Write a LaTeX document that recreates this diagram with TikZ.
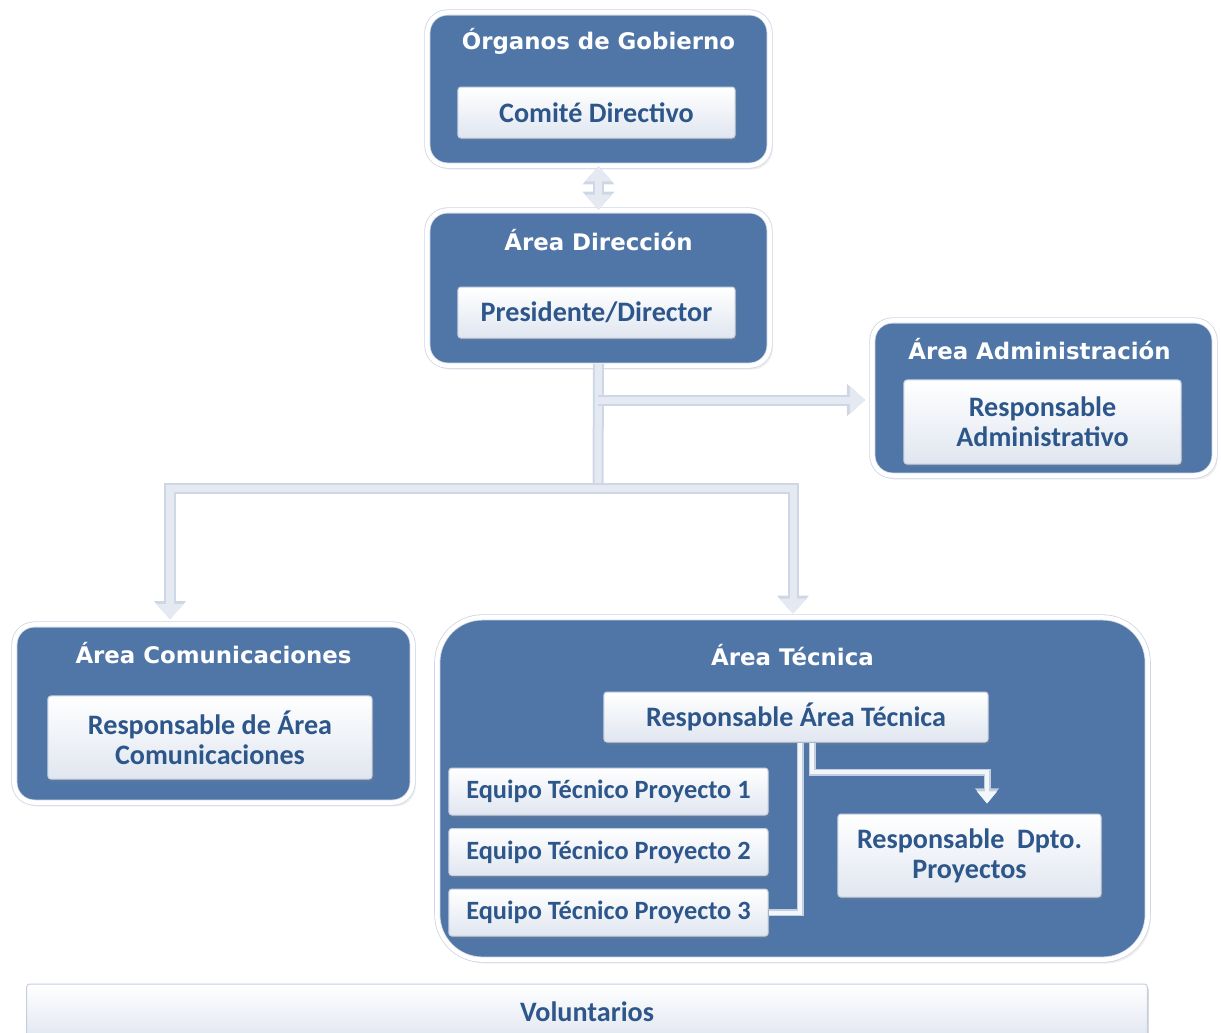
\documentclass[tikz,border=0pt]{standalone}
\usepackage{fontspec}
\setmainfont{Carlito}
\newfontfamily\headfont{DejaVu Sans}
\usetikzlibrary{arrows.meta,shadows}

\definecolor{areablue}{RGB}{80,118,167}
\definecolor{ringline}{RGB}{205,214,229}
\definecolor{boxline}{RGB}{196,207,224}
\definecolor{boxshade}{RGB}{224,230,240}
\definecolor{inktext}{RGB}{45,86,138}
\definecolor{linkfill}{RGB}{229,234,242}
\definecolor{linkline}{RGB}{206,215,229}

\begin{document}
\begin{tikzpicture}[x=0.01cm,y=-0.01cm,
    area/.style={rectangle,
          rounded corners=0.2cm,
          fill=areablue,
          draw=ringline,
          double=white,
          double distance=0.045cm,
          line width=0.008cm,
          drop shadow={opacity=0.12, shadow xshift=0.03cm, shadow yshift=-0.04cm}},
    head/.style={anchor=base, text=white,
          font={\headfont\bfseries\fontsize{6.5}{8}\selectfont}},
    post/.style={rectangle,
          rounded corners=0.03cm,
          draw=boxline,
          line width=0.01cm,
          top color=white,
          bottom color=boxshade,
          text=inktext,
          align=center,
          inner sep=0pt,
          font={\bfseries\fontsize{8}{8.6}\selectfont},
          drop shadow={opacity=0.3, shadow xshift=0.015cm, shadow yshift=-0.025cm}},
    link/.style={draw=linkfill, line width=0.07cm,
          preaction={draw=linkline, line width=0.11cm}},
    tip/.style={link, -{Triangle[width=0.26cm,length=0.15cm]},
          preaction={draw=linkline, line width=0.11cm, -{Triangle[width=0.31cm,length=0.18cm]}}},
    twotips/.style={link, {Triangle[width=0.26cm,length=0.15cm]}-{Triangle[width=0.26cm,length=0.15cm]},
          preaction={draw=linkline, line width=0.11cm,
            {Triangle[width=0.31cm,length=0.18cm]}-{Triangle[width=0.31cm,length=0.18cm]}}},
    inlink/.style={draw=white!94!areablue, line width=0.04cm,
          preaction={draw=boxline, line width=0.07cm}},
    intip/.style={inlink, -{Triangle[width=0.19cm,length=0.12cm]},
          preaction={draw=boxline, line width=0.07cm, -{Triangle[width=0.23cm,length=0.15cm]}}}]

    \useasboundingbox (0,0) rectangle (1221,1032);

    % areas
    \node[area, minimum width=3.42cm, minimum height=1.53cm] (org) at (598.5,89) {};
    \node[head] at ([yshift=-0.37cm]org.north) {Órganos de Gobierno};

    \node[area, minimum width=3.42cm, minimum height=1.55cm] (dir) at (598.5,288) {};
    \node[head] at ([yshift=-0.40cm]dir.north) {Área Dirección};

    \node[area, minimum width=3.42cm, minimum height=1.55cm] (adm) at (1043.5,398) {};
    \node[head] at ([xshift=-0.04cm,yshift=-0.39cm]adm.north) {Área Administración};

    \node[area, minimum width=3.98cm, minimum height=1.78cm] (com) at (213.5,713.5) {};
    \node[head] at ([yshift=-0.39cm]com.north) {Área Comunicaciones};

    \node[area, rounded corners=0.45cm,
          minimum width=7.10cm, minimum height=3.42cm] (tec) at (792.5,788.5) {};
    \node[head] at ([yshift=-0.48cm]tec.north) {Área Técnica};

    % posts
    \node[post, minimum width=2.77cm, minimum height=0.51cm] (comite) at (596.5,112.5) {Comité Directivo};
    \node[post, minimum width=2.77cm, minimum height=0.51cm] (pres) at (596.5,312.5) {Presidente/Director};
    \node[post, minimum width=2.77cm, minimum height=0.84cm] (radm) at (1042.5,422) {Responsable\\Administrativo};
    \node[post, minimum width=3.24cm, minimum height=0.83cm] (rcom) at (210,737.5) {Responsable de Área\\Comunicaciones};
    \node[post, minimum width=3.84cm, minimum height=0.50cm] (rtec) at (796,717) {Responsable Área Técnica};
    \foreach \i/\y in {1/791.5,2/852,3/912.5}
        \node[post, font={\bfseries\fontsize{7.5}{8.6}\selectfont},
              minimum width=3.19cm, minimum height=0.47cm] (eq\i) at (608.5,\y) {Equipo Técnico Proyecto \i};
    \node[post, minimum width=2.63cm, minimum height=0.83cm] (rdpto) at (969.5,855.5) {Responsable~~Dpto.\\Proyectos};
    \node[post, minimum width=11.20cm, minimum height=0.56cm] (vol) at (587,1012) {Voluntarios};

    % links
    \coordinate (split) at (598,488);
    \coordinate (tap) at (598,400);
    \coordinate (com-in) at (170,619);
    \coordinate (adm-in) at ([xshift=-0.07cm]adm.west);
    \coordinate (tec-in) at ([xshift=0.005cm,yshift=0.035cm]tec.north);
    \coordinate (dpto-in) at ([xshift=0.175cm,yshift=0.1cm]rdpto.north);

    \draw[twotips] ([yshift=-0.005cm]org.south) -- ([yshift=0.005cm]dir.north);
    \draw[link] ([yshift=0.02cm]dir.south) -- (split);
    \draw[tip] (tap) -- (tap -| adm-in);
    \draw[twotips] (com-in) |- (split) -| (tec-in);

    \draw[inlink] ([xshift=0.04cm]rtec.south) |- (eq3.east);
    \draw[intip] ([xshift=0.16cm]rtec.south) |- ([yshift=0.31cm]dpto-in) -- (dpto-in);

\end{tikzpicture}
\end{document}
